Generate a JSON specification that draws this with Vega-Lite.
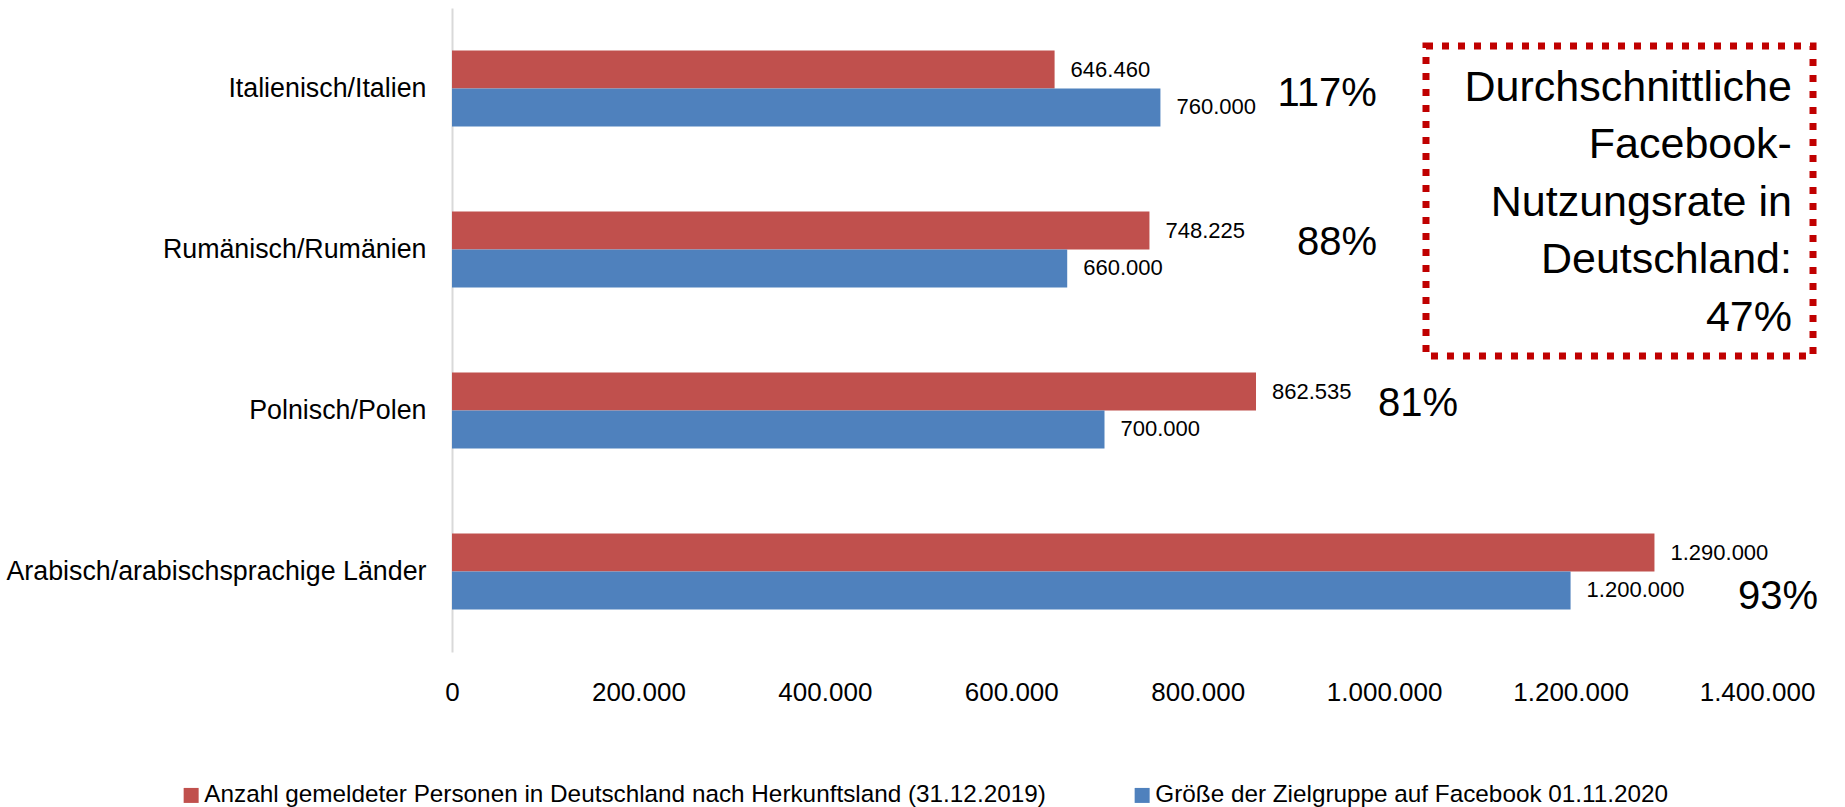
{
  "$schema": "https://vega.github.io/schema/vega-lite/v6.json",
  "width": 1305,
  "height": 644,
  "autosize": {"type": "none"},
  "padding": {"left": 452, "top": 8, "right": 88, "bottom": 155},
  "config": {
    "font": "Liberation Sans",
    "view": {"stroke": null},
    "locale": {"number": {"decimal": ",", "thousands": ".", "grouping": [3], "currency": ["", " €"]}}
  },
  "datasets": {
    "werte": [
      {"Sprache": "Italienisch/Italien", "Reihe": "Anzahl gemeldeter Personen in Deutschland nach Herkunftsland (31.12.2019)", "Wert": 646460},
      {"Sprache": "Italienisch/Italien", "Reihe": "Größe der Zielgruppe auf Facebook 01.11.2020", "Wert": 760000},
      {"Sprache": "Rumänisch/Rumänien", "Reihe": "Anzahl gemeldeter Personen in Deutschland nach Herkunftsland (31.12.2019)", "Wert": 748225},
      {"Sprache": "Rumänisch/Rumänien", "Reihe": "Größe der Zielgruppe auf Facebook 01.11.2020", "Wert": 660000},
      {"Sprache": "Polnisch/Polen", "Reihe": "Anzahl gemeldeter Personen in Deutschland nach Herkunftsland (31.12.2019)", "Wert": 862535},
      {"Sprache": "Polnisch/Polen", "Reihe": "Größe der Zielgruppe auf Facebook 01.11.2020", "Wert": 700000},
      {"Sprache": "Arabisch/arabischsprachige Länder", "Reihe": "Anzahl gemeldeter Personen in Deutschland nach Herkunftsland (31.12.2019)", "Wert": 1290000},
      {"Sprache": "Arabisch/arabischsprachige Länder", "Reihe": "Größe der Zielgruppe auf Facebook 01.11.2020", "Wert": 1200000}
    ],
    "prozent": [
      {"Text": "117%", "x": 885600, "yu": 0.536},
      {"Text": "88%", "x": 906500, "yu": 1.461},
      {"Text": "81%", "x": 993400, "yu": 2.461},
      {"Text": "93%", "x": 1379600, "yu": 3.660}
    ],
    "kasten": [
      {"x1": 1044900, "x2": 1460100, "y1": 0.236, "y2": 2.161, "xt": 1437500, "yt": 0.494, "Text": "Durchschnittliche\nFacebook-\nNutzungsrate in\nDeutschland:\n47%"}
    ]
  },
  "layer": [
    {
      "data": {"name": "werte"},
      "encoding": {
        "y": {
          "field": "Sprache",
          "type": "nominal",
          "sort": ["Italienisch/Italien", "Rumänisch/Rumänien", "Polnisch/Polen", "Arabisch/arabischsprachige Länder"],
          "scale": {"paddingInner": 0.528, "paddingOuter": 0.264},
          "axis": {
            "title": null,
            "ticks": false,
            "grid": false,
            "domainColor": "#D9D9D9",
            "domainWidth": 2,
            "labelFontSize": 26.8,
            "labelPadding": 26,
            "labelColor": "#000000",
            "labelLimit": 1000
          }
        },
        "yOffset": {
          "field": "Reihe",
          "type": "nominal",
          "sort": ["Anzahl gemeldeter Personen in Deutschland nach Herkunftsland (31.12.2019)", "Größe der Zielgruppe auf Facebook 01.11.2020"],
          "scale": {"paddingInner": 0, "paddingOuter": 0}
        },
        "x": {
          "field": "Wert",
          "type": "quantitative",
          "scale": {"domain": [0, 1400000], "nice": false, "zero": true},
          "axis": {
            "title": null,
            "domain": false,
            "ticks": false,
            "grid": false,
            "values": [0, 200000, 400000, 600000, 800000, 1000000, 1200000, 1400000],
            "format": ",d",
            "labelFontSize": 26,
            "labelPadding": 27,
            "labelColor": "#000000",
            "labelFlush": false
          }
        }
      },
      "layer": [
        {
          "mark": {"type": "bar"},
          "encoding": {
            "color": {
              "field": "Reihe",
              "type": "nominal",
              "scale": {
                "domain": ["Anzahl gemeldeter Personen in Deutschland nach Herkunftsland (31.12.2019)", "Größe der Zielgruppe auf Facebook 01.11.2020"],
                "range": ["#C0504D", "#4F81BD"]
              },
              "legend": {
                "orient": "none",
                "legendX": -273,
                "legendY": 775,
                "direction": "horizontal",
                "title": null,
                "symbolType": "square",
                "symbolSize": 225,
                "symbolStrokeWidth": 0,
                "labelFontSize": 24.3,
                "labelOffset": 1,
                "labelColor": "#000000",
                "labelLimit": 2000,
                "columnPadding": 84,
                "padding": 0
              }
            }
          }
        },
        {
          "mark": {"type": "text", "align": "left", "baseline": "middle", "dx": 16, "fontSize": 22, "color": "#000000"},
          "encoding": {"text": {"field": "Wert", "type": "quantitative", "format": ",d"}}
        }
      ]
    },
    {
      "layer": [
        {
          "data": {"name": "kasten"},
          "mark": {"type": "rect", "fill": null, "stroke": "#C00000", "strokeWidth": 7, "strokeDash": [7, 9]},
          "encoding": {
            "x": {"field": "x1", "type": "quantitative"},
            "x2": {"field": "x2"},
            "y": {"field": "y1", "type": "quantitative", "scale": {"domain": [0, 4], "reverse": true, "nice": false, "zero": false}, "axis": null},
            "y2": {"field": "y2"}
          }
        },
        {
          "data": {"name": "kasten"},
          "mark": {"type": "text", "align": "right", "baseline": "middle", "fontSize": 43, "lineHeight": 57.5, "lineBreak": "\n", "color": "#000000"},
          "encoding": {
            "x": {"field": "xt", "type": "quantitative"},
            "y": {"field": "yt", "type": "quantitative", "scale": {"domain": [0, 4], "reverse": true, "nice": false, "zero": false}, "axis": null},
            "text": {"field": "Text", "type": "nominal"}
          }
        },
        {
          "data": {"name": "prozent"},
          "mark": {"type": "text", "align": "left", "baseline": "middle", "fontSize": 40, "color": "#000000"},
          "encoding": {
            "x": {"field": "x", "type": "quantitative"},
            "y": {"field": "yu", "type": "quantitative", "scale": {"domain": [0, 4], "reverse": true, "nice": false, "zero": false}, "axis": null},
            "text": {"field": "Text", "type": "nominal"}
          }
        }
      ]
    }
  ],
  "resolve": {"scale": {"y": "independent"}}
}
